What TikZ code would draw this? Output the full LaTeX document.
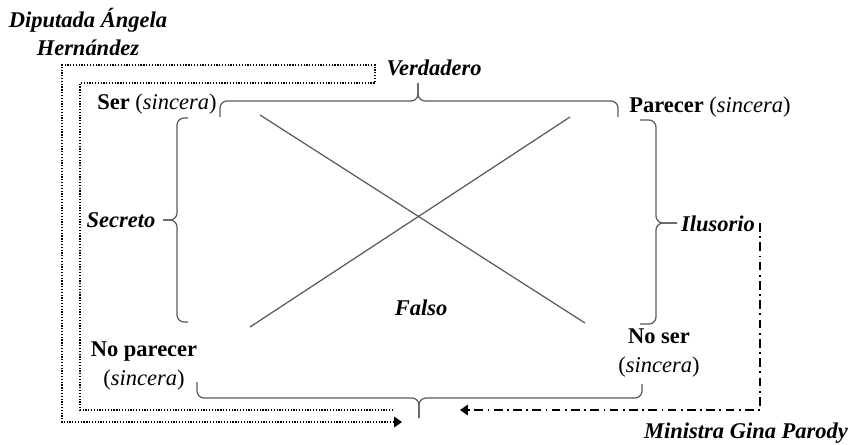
\documentclass[tikz,border=0pt]{standalone}
\usepackage{fontspec}
\setmainfont{Liberation Serif}
\usetikzlibrary{arrows.meta}

\tikzset{
  etiqueta/.style={font=\fontsize{12.8}{16}\selectfont\bfseries\itshape, inner sep=0pt},
  polo/.style={font=\fontsize{12.8}{16}\selectfont\bfseries, inner sep=0pt, align=center},
  llave/.style={line width=0.7pt, black!65, rounded corners=4pt},
  diag/.style={line width=0.7pt, black!65},
  punteado/.style={line width=0.9pt, dash pattern=on 0.7pt off 0.9pt, -{Triangle[length=4.5pt,width=6pt]}},
  rayapunto/.style={line width=0.9pt, dash pattern=on 5pt off 2.5pt on 1pt off 2.5pt, -{Triangle[length=4.5pt,width=6pt]}},
}
\newcommand{\sincera}{\textnormal{(\textit{sincera})}}

\begin{document}
\begin{tikzpicture}[x=0.02cm, y=-0.02cm]
  \useasboundingbox (0,0) rectangle (854,444);
  % diagonales
  \draw[diag] (260,115) -- (585,323);
  \draw[diag] (250,327) -- (570,117);
  % llaves
  \draw[llave] (220,117) -- (220,101) -- (418,101) -- (418,83);
  \draw[llave] (418,83) -- (418,101) -- (618,101) -- (618,117);
  \draw[llave] (188,118) -- (177,118) -- (177,220) -- (163,220);
  \draw[llave] (163,220) -- (177,220) -- (177,322) -- (188,322);
  \draw[llave] (640,120) -- (656,120) -- (656,223) -- (677,223);
  \draw[llave] (677,223) -- (656,223) -- (656,324) -- (640,324);
  \draw[llave] (197,382) -- (197,398) -- (419,398) -- (419,418);
  \draw[llave] (419,418) -- (419,398) -- (642,398) -- (642,384);
  % etiquetas
  \node[etiqueta, align=center] (diputada) at (88,32) {Diputada Ángela\\Hernández};
  \node[etiqueta] (verdadero) at (434,68) {Verdadero};
  \node[polo] (ser) at (157,104) {Ser \sincera};
  \node[polo] (parecer) at (710,107) {Parecer \sincera};
  \node[etiqueta] (secreto) at (121,220) {Secreto};
  \node[etiqueta] (ilusorio) at (718,224) {Ilusorio};
  \node[etiqueta] (falso) at (421,308) {Falso};
  \node[polo] (noparecer) at (144,366) {No parecer\\\sincera};
  \node[polo] (noser) at (659,353) {No ser\\\sincera};
  \node[etiqueta] (ministra) at (746,433) {Ministra Gina Parody};
  % flechas
  \coordinate (dip-ini) at (393,410);
  \coordinate (dip-fin) at (402,422);
  \draw[punteado] (dip-ini) -- (80,410) -- (80,83) -- (375,83) -- (375,65) -- (62,65) -- (62,422) -- (dip-fin);
  \coordinate (gina-ini) at (760,223);
  \coordinate (gina-fin) at (460,410);
  \draw[rayapunto] (gina-ini) |- (gina-fin);
\end{tikzpicture}
\end{document}
